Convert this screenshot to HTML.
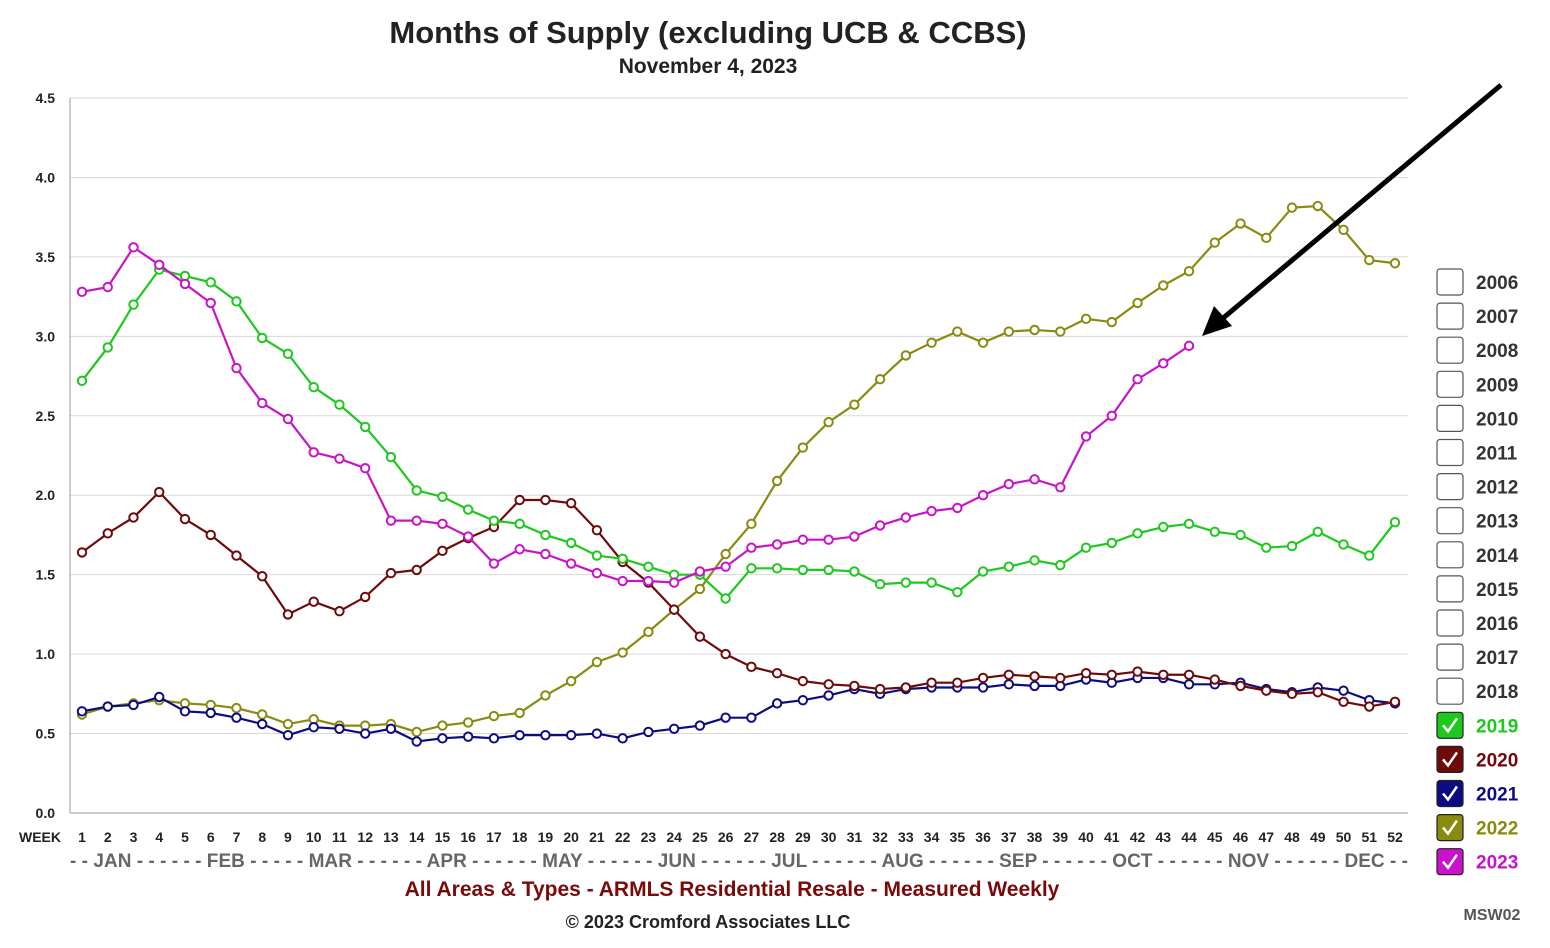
<!DOCTYPE html>
<html><head><meta charset="utf-8"><style>
body{margin:0;background:#fff;font-family:"Liberation Sans",sans-serif}
svg text{font-family:"Liberation Sans",sans-serif}
</style></head><body>
<svg id="c" width="1550" height="943" viewBox="0 0 1550 943">
<text x="708" y="43" text-anchor="middle" font-size="31" font-weight="bold" fill="#222">Months of Supply (excluding UCB &amp; CCBS)</text>
<text x="708" y="73" text-anchor="middle" font-size="21" font-weight="bold" fill="#222">November 4, 2023</text>
<g id="grid"></g><g id="series"></g><g id="legend"></g>
<text x="19" y="842" font-size="14" font-weight="bold" fill="#222">WEEK</text>
<text x="70" y="867" font-size="19" font-weight="bold" fill="#666" textLength="1338" lengthAdjust="spacing">- - JAN - - - - - - FEB - - - - - MAR - - - - - - APR - - - - - - MAY - - - - - - JUN - - - - - - JUL - - - - - - AUG - - - - - - SEP - - - - - - OCT - - - - - - NOV - - - - - - DEC - -</text>
<text x="732" y="896" text-anchor="middle" font-size="21" font-weight="bold" fill="#7a0a0a">All Areas &amp; Types - ARMLS Residential Resale - Measured Weekly</text>
<text x="708" y="928" text-anchor="middle" font-size="18" font-weight="bold" fill="#222">© 2023 Cromford Associates LLC</text>
<text x="1492" y="920" text-anchor="middle" font-size="16" font-weight="bold" fill="#555">MSW02</text>
<g>
<line x1="1501" y1="85" x2="1222" y2="319" stroke="#000" stroke-width="5"/>
<polygon points="1202,336 1214,306 1232,326" fill="#000"/>
</g>
</svg>
<script>
const weeks=[];for(let i=1;i<=52;i++)weeks.push(i);
const yTicks=[0,0.5,1,1.5,2,2.5,3,3.5,4,4.5];
const s2019=[2.72,2.93,3.20,3.42,3.38,3.34,3.22,2.99,2.89,2.68,2.57,2.43,2.24,2.03,1.99,1.91,1.84,1.82,1.75,1.70,1.62,1.60,1.55,1.50,1.50,1.35,1.54,1.54,1.53,1.53,1.52,1.44,1.45,1.45,1.39,1.52,1.55,1.59,1.56,1.67,1.70,1.76,1.80,1.82,1.77,1.75,1.67,1.68,1.77,1.69,1.62,1.83];
const s2020=[1.64,1.76,1.86,2.02,1.85,1.75,1.62,1.49,1.25,1.33,1.27,1.36,1.51,1.53,1.65,1.73,1.80,1.97,1.97,1.95,1.78,1.58,1.45,1.28,1.11,1.00,0.92,0.88,0.83,0.81,0.80,0.78,0.79,0.82,0.82,0.85,0.87,0.86,0.85,0.88,0.87,0.89,0.87,0.87,0.84,0.80,0.77,0.75,0.76,0.70,0.67,0.70];
const s2021=[0.64,0.67,0.68,0.73,0.64,0.63,0.60,0.56,0.49,0.54,0.53,0.50,0.53,0.45,0.47,0.48,0.47,0.49,0.49,0.49,0.50,0.47,0.51,0.53,0.55,0.60,0.60,0.69,0.71,0.74,0.78,0.75,0.78,0.79,0.79,0.79,0.81,0.80,0.80,0.84,0.82,0.85,0.85,0.81,0.81,0.82,0.78,0.76,0.79,0.77,0.71,0.69];
const s2022=[0.62,0.67,0.69,0.71,0.69,0.68,0.66,0.62,0.56,0.59,0.55,0.55,0.56,0.51,0.55,0.57,0.61,0.63,0.74,0.83,0.95,1.01,1.14,1.28,1.41,1.63,1.82,2.09,2.30,2.46,2.57,2.73,2.88,2.96,3.03,2.96,3.03,3.04,3.03,3.11,3.09,3.21,3.32,3.41,3.59,3.71,3.62,3.81,3.82,3.67,3.48,3.46];
const s2023=[3.28,3.31,3.56,3.45,3.33,3.21,2.80,2.58,2.48,2.27,2.23,2.17,1.84,1.84,1.82,1.74,1.57,1.66,1.63,1.57,1.51,1.46,1.46,1.45,1.52,1.55,1.67,1.69,1.72,1.72,1.74,1.81,1.86,1.90,1.92,2.00,2.07,2.10,2.05,2.37,2.50,2.73,2.83,2.94];
const legendYears=["2006","2007","2008","2009","2010","2011","2012","2013","2014","2015","2016","2017","2018","2019","2020","2021","2022","2023"];
const checkedYears=["2019","2020","2021","2022","2023"];
const ns="http://www.w3.org/2000/svg";
const X=w=>82+(w-1)*(1395-82)/51;
const Y=v=>813-v*(813-98)/4.5;
function mk(tag,attrs,parent){const e=document.createElementNS(ns,tag);for(const k in attrs)e.setAttribute(k,attrs[k]);parent.appendChild(e);return e;}
const grid=document.getElementById('grid');
yTicks.forEach(t=>{
 const l=mk('line',{x1:70,x2:1408,y1:Y(t),y2:Y(t),stroke:t===0?'#999':'#d8d8d8','stroke-width':1},grid);
 
 
 const tx=mk('text',{x:55,y:Y(t)+5,'text-anchor':'end','font-size':14,'font-weight':'bold',fill:'#222'},grid);
 tx.textContent=t.toFixed(1);
 
 
});
const ax=mk('line',{x1:70,x2:70,y1:98,y2:813,stroke:'#999'},grid);


weeks.forEach(w=>{
 const tx=mk('text',{x:X(w),y:842,'text-anchor':'middle','font-size':14,'font-weight':'bold',fill:'#222'},grid);
 tx.textContent=w;
 
 
});
const sg=document.getElementById('series');
const series=[["2022",s2022,"#8a8a10"],["2021",s2021,"#0c0c80"],["2020",s2020,"#6e0a0a"],["2019",s2019,"#1ec81e"],["2023",s2023,"#c814c8"]];
series.forEach(([name,d,col])=>{
 const g=mk('g',{},sg);
 
 
 mk('polyline',{points:d.map((v,i)=>X(i+1)+','+Y(v)).join(' '),fill:'none',stroke:col,'stroke-width':2.2},g);
 d.forEach((v,i)=>{
  const c=mk('circle',{cx:X(i+1),cy:Y(v),r:4.2,fill:'#fff',stroke:col,'stroke-width':2},g);
  
  
 });
});
const lg=document.getElementById('legend');
const colMap={"2019":"#1ec81e","2020":"#6e0a0a","2021":"#0c0c80","2022":"#8a8a10","2023":"#c814c8"};
legendYears.forEach((yr,i)=>{
 const y=282+i*34.1;
 const g=mk('g',{},lg);
 
 
 const on=checkedYears.includes(yr);
 mk('rect',{x:1437,y:y-13,width:26,height:26,rx:3,fill:on?colMap[yr]:'#fff',stroke:on?'#222':'#555','stroke-width':1.2},g);
 if(on)mk('polyline',{points:`${1443},${y} ${1448},${y+6} ${1457},${y-7}`,fill:'none',stroke:'#fff','stroke-width':2.5},g);
 const t=mk('text',{x:1476,y:y+7,'font-size':19,'font-weight':'bold',fill:on?colMap[yr]:'#333'},g);
 t.textContent=yr;
});
</script>
</body></html>
